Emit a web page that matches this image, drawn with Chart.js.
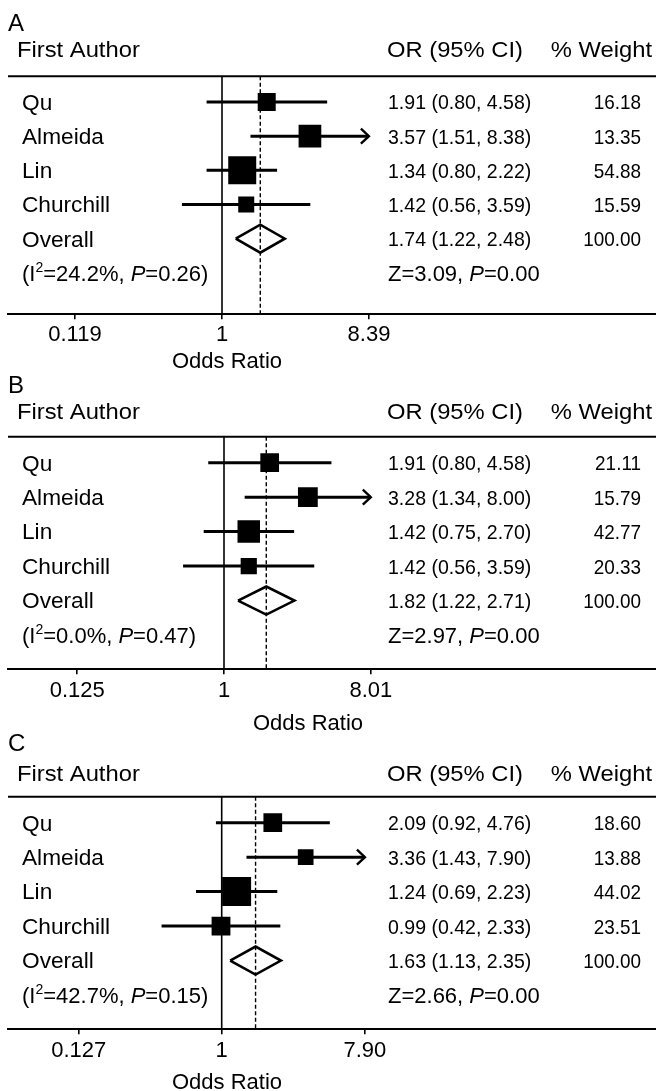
<!DOCTYPE html>
<html><head><meta charset="utf-8">
<script src="https://cdn.jsdelivr.net/npm/chart.js@4.4.1/dist/chart.umd.min.js"></script>
<style>
html,body{margin:0;padding:0;background:#fff;}
#wrap{position:relative;width:656px;height:1091px;overflow:hidden;background:#fff;}
.panel{position:absolute;left:0;width:656px;}
canvas{display:block;}
</style></head><body>
<div id="wrap">
<div class="panel" style="top:0;height:376px"><canvas id="cA" width="656" height="376"></canvas></div>
<div class="panel" style="top:360px;height:376px"><canvas id="cB" width="656" height="376"></canvas></div>
<div class="panel" style="top:720px;height:371px"><canvas id="cC" width="656" height="371"></canvas></div>
</div>
<script>
// ---------- data ----------
const panelLetters = ['A', 'B', 'C'];
const studies = ['Qu', 'Almeida', 'Lin', 'Churchill'];

const orA = [1.91, 3.57, 1.34, 1.42];
const loA = [0.80, 1.51, 0.80, 0.56];
const hiA = [4.58, 8.38, 2.22, 3.59];
const wtA = [16.18, 13.35, 54.88, 15.59];

const orB = [1.91, 3.28, 1.42, 1.42];
const loB = [0.80, 1.34, 0.75, 0.56];
const hiB = [4.58, 8.00, 2.70, 3.59];
const wtB = [21.11, 15.79, 42.77, 20.33];

const orC = [2.09, 3.36, 1.24, 0.99];
const loC = [0.92, 1.43, 0.69, 0.42];
const hiC = [4.76, 7.90, 2.23, 2.33];
const wtC = [18.60, 13.88, 44.02, 23.51];

const overallOR = [1.74, 1.82, 1.63];
const overallLo = [1.22, 1.22, 1.13];
const overallHi = [2.48, 2.71, 2.35];
const i2Values  = [24.2, 0.0, 42.7];
const pHet      = [0.26, 0.47, 0.15];
const zValues   = [3.09, 2.97, 2.66];
const pZ        = [0.00, 0.00, 0.00];

const tickValsA = [0.119, 1, 8.39];
const tickValsB = [0.125, 1, 8.01];
const tickValsC = [0.127, 1, 7.90];
const tickLabelsA = ['0.119', '1', '8.39'];
const tickLabelsB = ['0.125', '1', '8.01'];
const tickLabelsC = ['0.127', '1', '7.90'];

// studies whose CI is cut at the axis limit (drawn with an arrow)
const arrowA = [false, true, false, false];
const arrowB = [false, true, false, false];
const arrowC = [false, true, false, false];

// ---------- layout / style ----------
const FAM = '"Liberation Sans", Arial, Helvetica, sans-serif';
Chart.defaults.font.family = FAM;
Chart.defaults.color = '#000';

const layouts = [
  { id: 'cA', h: 376, x1: 222.0, k: 69.1, top: 76.3, axisY: 314.3, yMin: -0.75, yMax: 6.21, tickPad: 2, titleX: 227, titleY: 360, headY: 49, letterY: 22, box: [18, 22.7, 28, 16] },
  { id: 'cB', h: 376, x1: 224.0, k: 70.6, top: 76.7, axisY: 309.3, yMin: -0.754, yMax: 5.995, tickPad: 3, titleX: 308, titleY: 361.7, headY: 51, letterY: 24, box: [18.7, 19.8, 22.5, 16.2] },
  { id: 'cC', h: 371, x1: 221.7, k: 69.3, top: 76.7, axisY: 309.3, yMin: -0.754, yMax: 5.995, tickPad: 3, titleX: 227, titleY: 361, headY: 53, letterY: 22, box: [18.7, 15.7, 29, 18.8] }
];
const LEFT = 8, RIGHT = 656;
// text sizes and horizontal scaling per column
const TXT = { head: [22, 1.08], name: [22, 1.03], value: [21, 0.93], weight: [21, 0.9], stats: [22, 1.0] };

const panelData = [
  { or: orA, lo: loA, hi: hiA, wt: wtA, ticks: tickValsA, labels: tickLabelsA, arrow: arrowA },
  { or: orB, lo: loB, hi: hiB, wt: wtB, ticks: tickValsB, labels: tickLabelsB, arrow: arrowB },
  { or: orC, lo: loC, hi: hiC, wt: wtC, ticks: tickValsC, labels: tickLabelsC, arrow: arrowC }
];

function drawRich(ctx, x, yCenter, segs, style, align) {
  const size = style[0], sx = style[1];
  let total = 0;
  const parts = segs.map(s => {
    const sz = s.sup ? Math.round(size * 0.62) : size;
    const f = (s.it ? 'italic ' : '') + sz + 'px ' + FAM;
    ctx.font = f;
    const w = ctx.measureText(s.t).width;
    total += w;
    return { f, w, t: s.t, sup: s.sup };
  });
  const tw = total * sx;
  const x0 = align === 'right' ? x - tw : align === 'center' ? x - tw / 2 : x;
  const base = yCenter + 0.358 * size;
  ctx.save();
  ctx.translate(x0, 0);
  ctx.scale(sx, 1);
  ctx.textAlign = 'left';
  ctx.textBaseline = 'alphabetic';
  let cx = 0;
  parts.forEach(p => {
    ctx.font = p.f;
    ctx.fillText(p.t, cx, p.sup ? base - size * 0.40 : base);
    cx += p.w;
  });
  ctx.restore();
}

function ciText(o, l, h) {
  return o.toFixed(2) + ' (' + l.toFixed(2) + ', ' + h.toFixed(2) + ')';
}

function makePanel(p) {
  const lay = layouts[p];
  const d = panelData[p];
  const ov = overallOR[p], ovLo = overallLo[p], ovHi = overallHi[p];
  const pxPerRow = (lay.axisY - lay.top) / (lay.yMax - lay.yMin);
  const diamondHalf = 14 / pxPerRow;
  const xmin = Math.exp((LEFT - lay.x1) / lay.k);
  const xmax = Math.exp((RIGHT - lay.x1) / lay.k);
  const overallRow = studies.length;
  const statsRow = studies.length + 1;

  const ds = [];
  ds.push({ data: [{ x: 1, y: lay.yMin }, { x: 1, y: lay.yMax }], showLine: true, borderColor: '#000', borderWidth: 1.6, pointRadius: 0 });
  ds.push({ data: [{ x: ov, y: lay.yMin }, { x: ov, y: lay.yMax }], showLine: true, borderColor: '#000', borderWidth: 1.4, borderDash: [4, 2.5], pointRadius: 0 });
  studies.forEach((s, i) => {
    ds.push({ data: [{ x: d.lo[i], y: i }, { x: d.hi[i], y: i }], showLine: true, borderColor: '#000', borderWidth: 3, borderCapStyle: 'butt', pointRadius: 0 });
  });
  ds.push({ data: d.or.map((v, i) => ({ x: v, y: i })), showLine: false, pointStyle: 'rect',
            pointRadius: lay.box.map(s => s / Math.SQRT2), pointBackgroundColor: '#000', pointBorderColor: '#000', pointBorderWidth: 0 });
  ds.push({ data: [{ x: ovLo, y: overallRow }, { x: ov, y: overallRow - diamondHalf }, { x: ovHi, y: overallRow }, { x: ov, y: overallRow + diamondHalf }, { x: ovLo, y: overallRow }],
            showLine: true, borderColor: '#000', borderWidth: 2.6, borderJoinStyle: 'miter', fill: false, tension: 0, pointRadius: 0 });

  const decor = {
    id: 'decor' + p,
    afterDatasetsDraw(chart) {
      const ctx = chart.ctx, xs = chart.scales.x, ys = chart.scales.y, ca = chart.chartArea;
      ctx.save();
      ctx.strokeStyle = '#000';
      ctx.lineWidth = 2;
      ctx.beginPath(); ctx.moveTo(ca.left, ca.top); ctx.lineTo(ca.right, ca.top); ctx.stroke();
      ctx.lineWidth = 2.4;
      d.arrow.forEach((a, i) => {
        if (!a) return;
        const x = xs.getPixelForValue(d.hi[i]), y = ys.getPixelForValue(i);
        ctx.beginPath(); ctx.moveTo(x - 8, y - 7.5); ctx.lineTo(x, y); ctx.lineTo(x - 8, y + 7.5); ctx.stroke();
      });
      ctx.restore();
    },
    afterDraw(chart) {
      const ctx = chart.ctx, ys = chart.scales.y;
      ctx.save();
      ctx.fillStyle = '#000';
      drawRich(ctx, 8, lay.letterY, [{ t: panelLetters[p] }], [24, 1], 'left');
      drawRich(ctx, 17, lay.headY, [{ t: 'First Author' }], TXT.head, 'left');
      drawRich(ctx, 387, lay.headY, [{ t: 'OR (95% CI)' }], TXT.head, 'left');
      drawRich(ctx, 652, lay.headY, [{ t: '% Weight' }], TXT.head, 'right');
      studies.forEach((s, i) => {
        const y = ys.getPixelForValue(i);
        drawRich(ctx, 22, y, [{ t: s }], TXT.name, 'left');
        drawRich(ctx, 388, y, [{ t: ciText(d.or[i], d.lo[i], d.hi[i]) }], TXT.value, 'left');
        drawRich(ctx, 641, y, [{ t: d.wt[i].toFixed(2) }], TXT.weight, 'right');
      });
      let y = ys.getPixelForValue(overallRow);
      drawRich(ctx, 22, y, [{ t: 'Overall' }], TXT.name, 'left');
      drawRich(ctx, 388, y, [{ t: ciText(ov, ovLo, ovHi) }], TXT.value, 'left');
      drawRich(ctx, 641, y, [{ t: (100).toFixed(2) }], TXT.weight, 'right');
      y = ys.getPixelForValue(statsRow);
      drawRich(ctx, 22, y, [{ t: '(I' }, { t: '2', sup: true }, { t: '=' + i2Values[p].toFixed(1) + '%, ' }, { t: 'P', it: true }, { t: '=' + pHet[p].toFixed(2) + ')' }], TXT.stats, 'left');
      drawRich(ctx, 388, y, [{ t: 'Z=' + zValues[p].toFixed(2) + ', ' }, { t: 'P', it: true }, { t: '=' + pZ[p].toFixed(2) }], TXT.stats, 'left');
      drawRich(ctx, lay.titleX, lay.titleY, [{ t: 'Odds Ratio' }], [22, 1], 'center');
      ctx.restore();
    }
  };

  new Chart(document.getElementById(lay.id), {
    type: 'scatter',
    data: { datasets: ds },
    plugins: [decor],
    options: {
      responsive: false,
      animation: false,
      events: [],
      layout: { autoPadding: false, padding: { left: LEFT, right: 0, top: lay.top, bottom: 0 } },
      plugins: { legend: { display: false }, tooltip: { enabled: false }, title: { display: false } },
      scales: {
        x: {
          type: 'logarithmic',
          position: 'bottom',
          min: xmin, max: xmax,
          bounds: 'data',
          afterBuildTicks: (scale) => { scale.ticks = d.ticks.map(v => ({ value: v })); },
          afterFit: (scale) => { scale.height = lay.h - lay.axisY; },
          ticks: { autoSkip: false, maxRotation: 0, padding: lay.tickPad, color: '#000',
                   font: { size: 22, family: FAM }, callback: (v, i) => d.labels[i] },
          grid: { display: true, drawOnChartArea: false, drawTicks: true, tickLength: 5, color: '#000', lineWidth: 1.6 },
          border: { display: true, color: '#000', width: 2 }
        },
        y: { type: 'linear', reverse: true, min: lay.yMin, max: lay.yMax, display: false }
      }
    }
  });
}

[0, 1, 2].forEach(makePanel);
</script>
</body></html>
